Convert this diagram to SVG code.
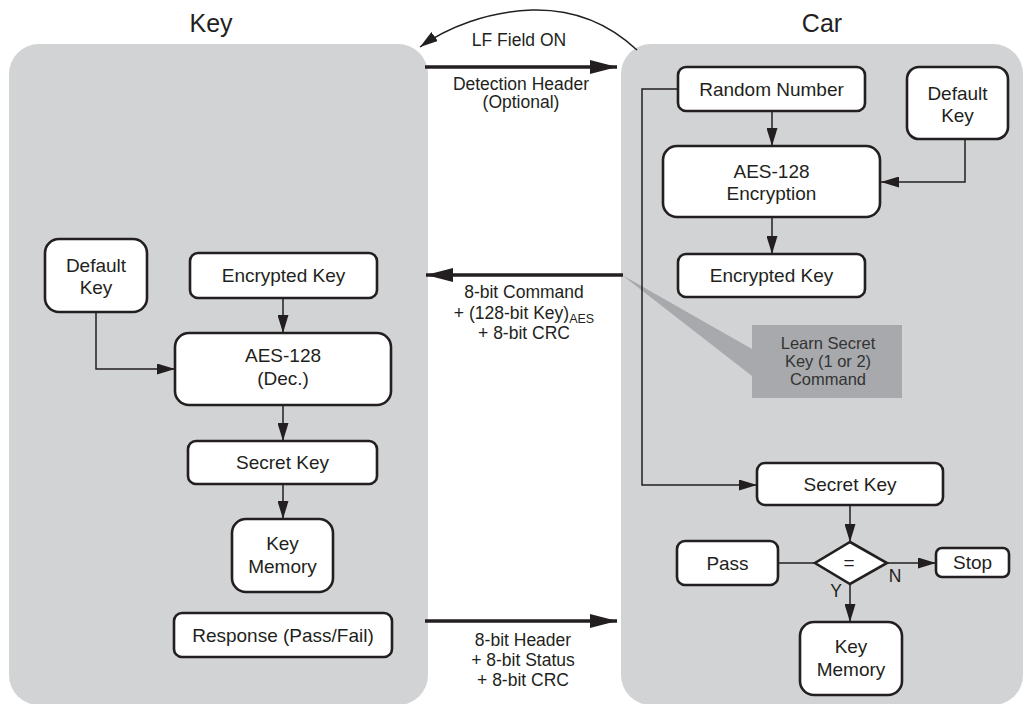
<svg xmlns="http://www.w3.org/2000/svg" width="1031" height="704" viewBox="0 0 1031 704">
<defs>
<style>
.panel{fill:#d1d3d4;stroke:none}
.box{fill:#ffffff;stroke:#231f20;stroke-width:2.6}
.t{font-family:"Liberation Sans",Arial,sans-serif;font-size:19px;fill:#231f20;text-anchor:middle}
.lbl{font-family:"Liberation Sans",Arial,sans-serif;font-size:17.5px;fill:#231f20;text-anchor:middle}
.title{font-family:"Liberation Sans",Arial,sans-serif;font-size:25px;fill:#231f20;text-anchor:middle}
.call{font-family:"Liberation Sans",Arial,sans-serif;font-size:16.5px;fill:#333333;text-anchor:middle}
.thin{fill:none;stroke:#231f20;stroke-width:1.5}
.thick{fill:none;stroke:#231f20;stroke-width:3.4}
</style>
<marker id="ah" markerUnits="userSpaceOnUse" markerWidth="18" markerHeight="11" refX="18" refY="5.5" orient="auto">
<path d="M0,0 L18,5.5 L0,11 z" fill="#231f20"/>
</marker>
<marker id="ahb" markerUnits="userSpaceOnUse" markerWidth="27" markerHeight="14" refX="27" refY="7" orient="auto">
<path d="M0,0 L27,7 L0,14 z" fill="#231f20"/>
</marker>
</defs>
<rect width="1031" height="704" fill="#ffffff"/>

<g id="panel-key">
<rect class="panel" x="9" y="44" width="419" height="661" rx="30"/>
<text class="title" x="211" y="32">Key</text>
</g>
<g id="panel-car">
<rect class="panel" x="621" y="44" width="402" height="661" rx="30"/>
<text class="title" x="822" y="32">Car</text>
</g>

<g id="callout">
<polygon points="622,275 752,349 752,376" fill="#a7a9ac"/>
<rect x="752" y="325" width="150" height="73" fill="#a7a9ac"/>
<text class="call" x="828" y="349">Learn Secret</text>
<text class="call" x="828" y="367">Key (1 or 2)</text>
<text class="call" x="828" y="385">Command</text>
</g>

<g id="connectors">
<path class="thin" d="M637,50 C605,20 570,9 532,10 C487,12 448,27 420,47" stroke-width="2" marker-end="url(#ah)"/>
<line class="thick" x1="425" y1="67" x2="617" y2="67" marker-end="url(#ahb)"/>
<line class="thick" x1="623" y1="275" x2="426" y2="275" marker-end="url(#ahb)"/>
<line class="thick" x1="425" y1="621" x2="617" y2="621" marker-end="url(#ahb)"/>
<line class="thin" x1="772" y1="111" x2="772" y2="146" marker-end="url(#ah)"/>
<polyline class="thin" points="965,139 965,182 881,182" marker-end="url(#ah)"/>
<line class="thin" x1="772" y1="217" x2="772" y2="254" marker-end="url(#ah)"/>
<polyline class="thin" points="678,89 642,89 642,485 757,485" marker-end="url(#ah)"/>
<line class="thin" x1="283" y1="298" x2="283" y2="333" marker-end="url(#ah)"/>
<polyline class="thin" points="96,312 96,369 175,369" marker-end="url(#ah)"/>
<line class="thin" x1="283" y1="405" x2="283" y2="441" marker-end="url(#ah)"/>
<line class="thin" x1="283" y1="484" x2="283" y2="519" marker-end="url(#ah)"/>
<line class="thin" x1="850" y1="505" x2="850" y2="542" marker-end="url(#ah)"/>
<line class="thin" x1="778" y1="563" x2="815" y2="563"/>
<line class="thin" x1="887" y1="563" x2="936" y2="563" marker-end="url(#ah)"/>
<line class="thin" x1="850" y1="584" x2="850" y2="622" marker-end="url(#ah)"/>
<text class="lbl" x="519" y="46" font-size="20">LF Field ON</text>
<text class="lbl" x="521" y="90" font-size="18.5">Detection Header</text>
<text class="lbl" x="521" y="108" font-size="18.5">(Optional)</text>
<text class="lbl" x="524" y="298">8-bit Command</text>
<text class="lbl" x="524" y="319">+ (128-bit Key)<tspan font-size="12.5" dy="4">AES</tspan></text>
<text class="lbl" x="524" y="339">+ 8-bit CRC</text>
<text class="lbl" x="523" y="646">8-bit Header</text>
<text class="lbl" x="523" y="666">+ 8-bit Status</text>
<text class="lbl" x="523" y="686">+ 8-bit CRC</text>
<text class="lbl" x="895" y="582" font-size="17">N</text>
<text class="lbl" x="836" y="597" font-size="17">Y</text>
</g>

<g id="car-random-number">
<rect class="box" x="678" y="67" width="187" height="44" rx="8"/>
<text class="t" x="771.5" y="96">Random Number</text>
</g>
<g id="car-default-key">
<rect class="box" x="907" y="67" width="101" height="72" rx="12"/>
<text class="t" x="957.5" y="100">Default</text>
<text class="t" x="957.5" y="122">Key</text>
</g>
<g id="car-aes-enc">
<rect class="box" x="663" y="146" width="217" height="71" rx="14"/>
<text class="t" x="771.5" y="178">AES-128</text>
<text class="t" x="771.5" y="200">Encryption</text>
</g>
<g id="car-encrypted-key">
<rect class="box" x="678" y="254" width="187" height="43" rx="8"/>
<text class="t" x="771.5" y="282">Encrypted Key</text>
</g>
<g id="car-secret-key">
<rect class="box" x="757" y="463" width="186" height="42" rx="8"/>
<text class="t" x="850" y="491">Secret Key</text>
</g>
<g id="car-compare">
<polygon class="box" points="850,542 887,563 850,584 815,563"/>
<text class="t" x="849" y="569">=</text>
</g>
<g id="car-pass">
<rect class="box" x="677" y="541" width="101" height="44" rx="8"/>
<text class="t" x="727.5" y="570">Pass</text>
</g>
<g id="car-stop">
<rect class="box" x="936" y="548" width="73" height="29" rx="6"/>
<text class="t" x="972.5" y="569">Stop</text>
</g>
<g id="car-key-memory">
<rect class="box" x="800" y="622" width="102" height="73" rx="14"/>
<text class="t" x="851" y="653">Key</text>
<text class="t" x="851" y="676">Memory</text>
</g>

<g id="key-default-key">
<rect class="box" x="45" y="239" width="102" height="73" rx="14"/>
<text class="t" x="96" y="272">Default</text>
<text class="t" x="96" y="294">Key</text>
</g>
<g id="key-encrypted-key">
<rect class="box" x="190" y="253" width="187" height="45" rx="8"/>
<text class="t" x="283.5" y="282">Encrypted Key</text>
</g>
<g id="key-aes-dec">
<rect class="box" x="175" y="333" width="216" height="72" rx="14"/>
<text class="t" x="283" y="362">AES-128</text>
<text class="t" x="283" y="385">(Dec.)</text>
</g>
<g id="key-secret-key">
<rect class="box" x="188" y="441" width="189" height="43" rx="8"/>
<text class="t" x="282.5" y="469">Secret Key</text>
</g>
<g id="key-key-memory">
<rect class="box" x="232" y="519" width="101" height="73" rx="14"/>
<text class="t" x="282.5" y="550">Key</text>
<text class="t" x="282.5" y="573">Memory</text>
</g>
<g id="key-response">
<rect class="box" x="174" y="613" width="218" height="44" rx="8"/>
<text class="t" x="283" y="642">Response (Pass/Fail)</text>
</g>
</svg>
